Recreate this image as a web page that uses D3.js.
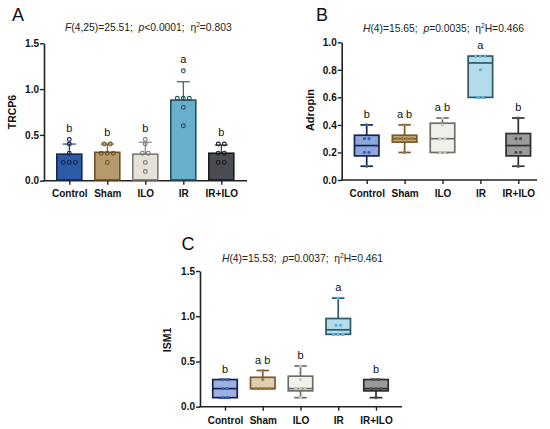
<!DOCTYPE html>
<html><head><meta charset="utf-8">
<script src="https://cdn.jsdelivr.net/npm/d3@7/dist/d3.min.js"></script>
<style>
html,body{margin:0;padding:0;background:#fff;}
svg{display:block;font-family:"Liberation Sans",Arial,sans-serif;}
</style></head>
<body>
<svg id="c" width="550" height="429"></svg>
<script>
// ---------- DATA ----------
const groups = ["Control", "Sham", "ILO", "IR", "IR+ILO"];

// Panel A: TRCP6 (mean ± SD bars with individual points)
const trcp6Mean = [0.29, 0.31, 0.29, 0.88, 0.30];
const trcp6SD   = [0.11, 0.09, 0.13, 0.20, 0.09];
const trcp6Points = [
  [0.2, 0.2, 0.2, 0.3, 0.4, 0.45],
  [0.2, 0.3, 0.3, 0.3, 0.4, 0.4],
  [0.1, 0.2, 0.3, 0.3, 0.4, 0.45],
  [0.6, 0.8, 0.9, 0.9, 0.9, 1.2],
  [0.2, 0.2, 0.3, 0.3, 0.4, 0.4]
];
const trcp6Letters = ["b", "b", "b", "a", "b"];
const trcp6Ticks = [0, 0.5, 1.0, 1.5];

// Panel B: Adropin (box plots)
const adropinLow    = [0.10, 0.20, 0.20, 0.60, 0.10];
const adropinQ1     = [0.175, 0.275, 0.20, 0.60, 0.175];
const adropinMedian = [0.25, 0.30, 0.30, 0.85, 0.25];
const adropinQ3     = [0.325, 0.325, 0.4125, 0.90, 0.3375];
const adropinHigh   = [0.40, 0.40, 0.45, 0.90, 0.45];
const adropinPoints = [
  [0.1, 0.2, 0.2, 0.3, 0.3, 0.4],
  [0.2, 0.3, 0.3, 0.3, 0.3, 0.4],
  [0.2, 0.2, 0.3, 0.3, 0.4, 0.45],
  [0.6, 0.6, 0.8, 0.9, 0.9, 0.9],
  [0.1, 0.2, 0.2, 0.3, 0.3, 0.45]
];
const adropinLetters = ["b", "a b", "a b", "a", "b"];
const adropinTicks = [0, 0.2, 0.4, 0.6, 0.8, 1.0];

// Panel C: ISM1 (box plots)
const ism1Low    = [0.10, 0.20, 0.10, 0.80, 0.10];
const ism1Q1     = [0.10, 0.20, 0.175, 0.80, 0.175];
const ism1Median = [0.20, 0.20, 0.20, 0.85, 0.20];
const ism1Q3     = [0.30, 0.325, 0.3375, 0.975, 0.30];
const ism1High   = [0.30, 0.40, 0.45, 1.20, 0.30];
const ism1Points = [
  [0.1, 0.1, 0.2, 0.2, 0.3, 0.3],
  [0.2, 0.2, 0.2, 0.2, 0.3, 0.4],
  [0.1, 0.2, 0.2, 0.2, 0.3, 0.45],
  [0.8, 0.8, 0.8, 0.9, 0.9, 1.2],
  [0.1, 0.2, 0.2, 0.2, 0.3, 0.3]
];
const ism1Letters = ["b", "a b", "b", "a", "b"];
const ism1Ticks = [0, 0.5, 1.0, 1.5];

// ---------- STYLES ----------
const barFill   = ["#2e5aa6", "#b79a6b", "#e6e2d8", "#67afcb", "#4a4e53"];
const barStroke = ["#13285a", "#6e5227", "#7b7b7b", "#24505f", "#1c1c1c"];
const boxFillB  = ["#8fa6d8", "#c3a676", "#f1efea", "#b3dbe9", "#9b9b9b"];
const boxFillC  = ["#9cb1de", "#e0cfae", "#f3f1ec", "#b3dbe9", "#9b9b9b"];
const boxStroke = ["#14244e", "#7a5a2a", "#6e6e6e", "#2b5a68", "#2e2e2e"];
const dotFill   = ["#2f62c4", "#9c7c48", "#cfc8b8", "#5ab4dc", "#505050"];

const svg = d3.select("#c");
const AX = "#222";
const SP = "\u00a0\u00a0";

function spreadOffsets(vals, spacing) {
  const counts = {}, idx = {};
  vals.forEach(v => counts[v] = (counts[v] || 0) + 1);
  return vals.map(v => {
    idx[v] = (idx[v] || 0);
    const k = counts[v], i = idx[v]++;
    return (i - (k - 1) / 2) * spacing;
  });
}

function drawAxes(p) {
  const g = svg.append("g");
  const yAxis = d3.axisLeft(p.y).tickValues(p.ticks).tickFormat(d3.format(".1f")).tickSize(4).tickSizeOuter(0);
  const ya = g.append("g").attr("transform", `translate(${p.x0},0)`).call(yAxis);
  ya.select(".domain").attr("stroke", AX).attr("stroke-width", 1.6);
  ya.selectAll(".tick line").attr("stroke", AX).attr("stroke-width", 1.4);
  ya.selectAll(".tick text").attr("font-size", 10).attr("font-weight", "bold").attr("fill", "#111")
    .attr("x", -5).attr("font-family", "Liberation Sans, Arial, sans-serif");
  const xAxis = d3.axisBottom(p.x).tickSize(4).tickSizeOuter(0);
  const xa = g.append("g").attr("transform", `translate(0,${p.y(0)})`).call(xAxis);
  xa.select(".domain").remove();
  xa.selectAll(".tick line").attr("stroke", AX).attr("stroke-width", 1.4);
  xa.selectAll(".tick text").attr("font-size", 10).attr("font-weight", "bold").attr("fill", "#111")
    .attr("y", 0).attr("dy", p.xLabDy).attr("font-family", "Liberation Sans, Arial, sans-serif");
  g.append("line").attr("x1", p.x0 - 0.8).attr("x2", p.x1).attr("y1", p.y(0)).attr("y2", p.y(0))
    .attr("stroke", AX).attr("stroke-width", 1.6);
  g.append("text").attr("transform", `translate(${p.titleX},${p.titleY}) rotate(-90)`)
    .attr("text-anchor", "middle").attr("font-size", p.titleSize).attr("font-weight", "bold")
    .attr("fill", "#111").text(p.title);
  g.append("text").attr("x", p.letterX).attr("y", p.letterY).attr("font-size", 18)
    .attr("fill", "#111").text(p.letter);
  const t = g.append("text").attr("x", p.statX).attr("y", p.statY).attr("font-size", 10.3).attr("fill", "#222");
  p.stats.forEach(s => {
    const ts = t.append("tspan").text(s.t);
    if (s.i) ts.attr("font-style", "italic");
    if (s.sup) ts.attr("font-size", 6.7).attr("dy", -4);
    if (s.down) ts.attr("dy", 4);
  });
}

function drawLetters(p, letters, tops) {
  svg.append("g").selectAll("text").data(groups).join("text")
    .attr("x", d => p.x(d)).attr("y", (d, i) => p.y(tops[i]) - 7)
    .attr("text-anchor", "middle").attr("font-size", 11).attr("fill", "#111")
    .text((d, i) => letters[i]);
}

// ---------- PANEL A ----------
const pA = {
  x0: 44, x1: 247, title: "TRCP6", titleX: 16, titleY: 112, titleSize: 10.5,
  letter: "A", letterX: 12, letterY: 21, statX: 65, statY: 31, xLabDy: 16.5,
  ticks: trcp6Ticks,
  stats: [{t: "F", i: 1}, {t: "(4,25)=25.51;" + SP}, {t: "p", i: 1}, {t: "<0.0001;" + SP + "η"}, {t: "2", sup: 1}, {t: "=0.803", down: 1}]
};
pA.y = d3.scaleLinear().domain([0, 1.5]).range([180.7, 43.3]);
pA.x = d3.scalePoint().domain(groups).range([69.3, 221.3]);
drawAxes(pA);
{
  const g = svg.append("g");
  const bw = 25;
  groups.forEach((grp, i) => {
    const cx = pA.x(grp);
    const top = trcp6Mean[i] + trcp6SD[i];
    g.append("line").attr("x1", cx).attr("x2", cx).attr("y1", pA.y(trcp6Mean[i])).attr("y2", pA.y(top))
      .attr("stroke", barStroke[i]).attr("stroke-width", 1.1);
    g.append("line").attr("x1", cx - 6.5).attr("x2", cx + 6.5).attr("y1", pA.y(top)).attr("y2", pA.y(top))
      .attr("stroke", barStroke[i]).attr("stroke-width", 1.1);
    g.append("rect").attr("x", cx - bw / 2).attr("width", bw)
      .attr("y", pA.y(trcp6Mean[i])).attr("height", pA.y(0) - pA.y(trcp6Mean[i]) - 0.8)
      .attr("fill", barFill[i]).attr("stroke", barStroke[i]).attr("stroke-width", 1.6);
    const offs = spreadOffsets(trcp6Points[i], 6);
    g.selectAll(null).data(trcp6Points[i]).join("circle")
      .attr("cx", (d, j) => cx + offs[j]).attr("cy", d => pA.y(d)).attr("r", 1.9)
      .attr("fill", "none").attr("stroke", barStroke[i]).attr("stroke-width", 1.1);
  });
  drawLetters(pA, trcp6Letters, groups.map((g, i) => Math.max(d3.max(trcp6Points[i]), trcp6Mean[i] + trcp6SD[i]) + 0.01));
}

// ---------- BOX PANELS ----------
function drawBoxes(p, low, q1, med, q3, high, pts, fills) {
  const g = svg.append("g");
  const bw = 24.5, cw = 12.5, sw = 1.7;
  groups.forEach((grp, i) => {
    const cx = p.x(grp);
    const c = boxStroke[i];
    g.append("line").attr("x1", cx).attr("x2", cx).attr("y1", p.y(q3[i])).attr("y2", p.y(high[i])).attr("stroke", c).attr("stroke-width", sw);
    g.append("line").attr("x1", cx).attr("x2", cx).attr("y1", p.y(q1[i])).attr("y2", p.y(low[i])).attr("stroke", c).attr("stroke-width", sw);
    [low[i], high[i]].forEach(v => g.append("line").attr("x1", cx - cw / 2).attr("x2", cx + cw / 2)
      .attr("y1", p.y(v)).attr("y2", p.y(v)).attr("stroke", c).attr("stroke-width", sw));
    g.append("rect").attr("x", cx - bw / 2).attr("width", bw).attr("y", p.y(q3[i]))
      .attr("height", Math.max(0.5, p.y(q1[i]) - p.y(q3[i])))
      .attr("fill", fills[i]).attr("stroke", c).attr("stroke-width", sw);
    g.append("line").attr("x1", cx - bw / 2).attr("x2", cx + bw / 2).attr("y1", p.y(med[i])).attr("y2", p.y(med[i]))
      .attr("stroke", c).attr("stroke-width", sw);
    const offs = spreadOffsets(pts[i], 4.6);
    g.selectAll(null).data(pts[i]).join("circle")
      .attr("cx", (d, j) => cx + offs[j]).attr("cy", d => p.y(d)).attr("r", 1.6)
      .attr("fill", dotFill[i]);
  });
}

// Panel B
const pB = {
  x0: 341.7, x1: 537, title: "Adropin", titleX: 313.5, titleY: 110, titleSize: 11,
  letter: "B", letterX: 316, letterY: 21, statX: 363, statY: 32, xLabDy: 17,
  ticks: adropinTicks,
  stats: [{t: "H", i: 1}, {t: "(4)=15.65;" + SP}, {t: "p", i: 1}, {t: "=0.0035;" + SP + "η"}, {t: "2", sup: 1}, {t: "H=0.466", down: 1}]
};
pB.y = d3.scaleLinear().domain([0, 1.0]).range([180, 42.3]);
pB.x = d3.scalePoint().domain(groups).range([366.7, 518.3]);
drawAxes(pB);
drawBoxes(pB, adropinLow, adropinQ1, adropinMedian, adropinQ3, adropinHigh, adropinPoints, boxFillB);
drawLetters(pB, adropinLetters, adropinHigh);

// Panel C
const pC = {
  x0: 200, x1: 402, title: "ISM1", titleX: 171, titleY: 340, titleSize: 10.5,
  letter: "C", letterX: 181.5, letterY: 249.5, statX: 222, statY: 261.5, xLabDy: 17.5,
  ticks: ism1Ticks,
  stats: [{t: "H", i: 1}, {t: "(4)=15.53;" + SP}, {t: "p", i: 1}, {t: "=0.0037;" + SP + "η"}, {t: "2", sup: 1}, {t: "H=0.461", down: 1}]
};
pC.y = d3.scaleLinear().domain([0, 1.5]).range([406.7, 271]);
pC.x = d3.scalePoint().domain(groups).range([225, 376]);
drawAxes(pC);
drawBoxes(pC, ism1Low, ism1Q1, ism1Median, ism1Q3, ism1High, ism1Points, boxFillC);
drawLetters(pC, ism1Letters, ism1High);
</script>
</body></html>
